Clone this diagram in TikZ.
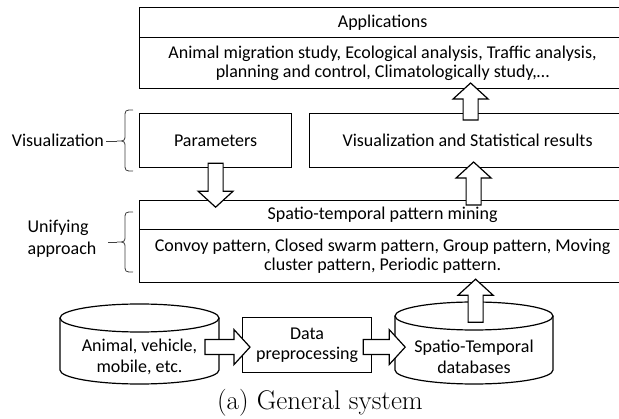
\documentclass[tikz,border=0pt]{standalone}
\usepackage{fontspec}
\newfontfamily\calib{Carlito}
\usetikzlibrary{calc}
\tikzset{
  box/.style={draw, line width=1.2pt, inner sep=0pt, align=center, anchor=north west,
    font=\calib\fontsize{18}{19.5}\selectfont},
  lbl/.style={inner sep=0pt, font=\calib\fontsize{18}{22}\selectfont},
  cyl/.style={line width=1.2pt},
  bracel/.style={line width=0.8pt, draw=black!75},
  pics/fatarrow/.style={code={
    \draw[line width=1.2pt, fill=white, line join=miter]
      (0,-7.5) -- ({#1-16},-7.5) -- ({#1-16},-17.5) -- (#1,0) -- ({#1-16},17.5)
      -- ({#1-16},7.5) -- (0,7.5) -- cycle;}}
}
\begin{document}
\begin{tikzpicture}[x=1pt,y=1pt,yscale=-1]
\clip (0,0) rectangle (619,419);
\fill[white] (0,0) rectangle (619,419);

% boxes
\node[box, minimum width=486, minimum height=30] (apph) at (139,7) {Applications};
\node[box, minimum width=486, minimum height=51] (appb) at (139,37)
  {Animal migration study, Ecological analysis, Traffic analysis,\\planning and control, Climatologically study,\dots};
\node[box, minimum width=152, minimum height=54] (params) at (139,113) {Parameters};
\node[box, minimum width=316, minimum height=54] (vis) at (309,113) {Visualization and Statistical results};
\node[box, minimum width=486, minimum height=29] (path) at (139,200) {Spatio-temporal pattern mining};
\node[box, minimum width=486, minimum height=53] (patb) at (139,229)
  {Convoy pattern, Closed swarm pattern, Group pattern, Moving\\cluster pattern, Periodic pattern.};
\node[box, minimum width=129, minimum height=55] (data) at (242,317) {Data\\preprocessing};

% cylinders
\draw[cyl] (60,318) -- (60,370) arc[start angle=180, end angle=0, x radius=79.5, y radius=14] -- (219,318);
\draw[cyl] (139.5,318) ellipse [x radius=79.5, y radius=14];
\node[lbl, align=center, font=\calib\fontsize{18}{20.5}\selectfont] (src) at (139.5,357) {Animal, vehicle,\\mobile, etc.};

\draw[cyl] (395,316) -- (395,370) arc[start angle=180, end angle=0, x radius=79, y radius=14] -- (553,316);
\draw[cyl] (474,316) ellipse [x radius=79, y radius=14];
\node[lbl, align=center, font=\calib\fontsize{18}{20.5}\selectfont] (db) at (474,357) {Spatio-Temporal\\databases};

% block arrows
\pic[rotate=90] at ($(vis.north)+(3,7)$) {fatarrow=37};
\pic[rotate=90] at ($(path.north)+(91,5)$) {fatarrow=43};
\pic[rotate=-90] at ($(params.south)+(0,-5)$) {fatarrow=44};
\pic at ($(data.west)+(-37,2)$) {fatarrow=45};
\pic at ($(data.east)+(-9,2)$) {fatarrow=42};
\pic[rotate=90] at ($(patb.south)+(93,39)$) {fatarrow=43};

% left labels and braces
\node[lbl, anchor=east] (vislbl) at (104,140) {Visualization};
\draw[bracel] (133,110) .. controls (125,110) .. (125,118) -- (125,134)
  .. controls (125,141) .. (117,141) .. controls (125,141) .. (125,148)
  -- (125,163) .. controls (125,171) .. (133,171);
\draw[bracel] (117,141) -- (106,141);

\node[lbl, align=left] (unilbl) at (62,239) {Unifying\\approach};
\draw[bracel] (133,212) .. controls (125,212) .. (125,220) -- (125,235)
  .. controls (125,242) .. (117,242) .. controls (125,242) .. (125,249)
  -- (125,264) .. controls (125,272) .. (133,272);
\draw[bracel] (117,242) -- (108,242);

% caption
\node[inner sep=0pt, font=\fontsize{27}{30}\selectfont] (cap) at (320,403) {(a) General system};
\end{tikzpicture}
\end{document}
